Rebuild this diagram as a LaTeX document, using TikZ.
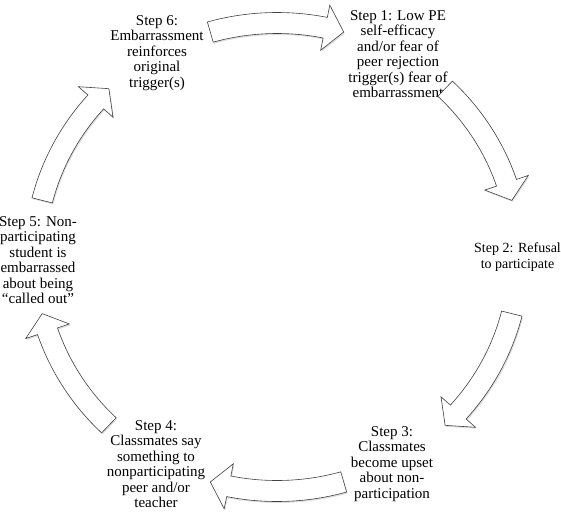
\documentclass[tikz,border=0pt]{standalone}
\usepackage{fontspec}
\setmainfont{Liberation Serif}
\usetikzlibrary{shadows}

% curved block arrow on the cycle: #1 tail angle, #2 tip angle
\newcommand{\cyclearrow}[2]{%
  \pgfmathsetmacro{\neckang}{#2+4.5}%
  \draw[blockarrow] (#1:252.5pt and 244.5pt)
    arc[start angle=#1, end angle=\neckang, x radius=252.5pt, y radius=244.5pt]
    -- (\neckang:265pt and 257pt) -- (#2:242pt and 234pt)
    -- (\neckang:219pt and 211pt) -- (\neckang:231.5pt and 223.5pt)
    arc[start angle=\neckang, end angle=#1, x radius=231.5pt, y radius=223.5pt]
    -- cycle;
}

\begin{document}
\begin{tikzpicture}[
    x=1pt, y=1pt,
    stagetext/.style={align=center, inner sep=0pt, font=\fontsize{15}{15.5}\selectfont},
    blockarrow/.style={draw=black!75, fill=white, line width=0.6pt,
      drop shadow={opacity=0.25, shadow xshift=1pt, shadow yshift=-1.5pt}},
]
\useasboundingbox (-277,-263) rectangle (284,257);

% Steps
\node[stagetext] (s1) at (121, 203) {Step 1: Low PE\\self-efficacy\\and/or fear of\\peer rejection\\trigger(s) fear of\\embarrassment};
\node[stagetext, font=\fontsize{14}{15.5}\selectfont] (s2) at (240.5, 0) {Step 2: Refusal\\to participate};
\node[stagetext] (s3) at (115, -207) {Step 3:\\Classmates\\become upset\\about non-\\participation};
\node[stagetext] (s4) at (-121, -207) {Step 4:\\Classmates say\\something to\\nonparticipating\\peer and/or\\teacher};
\node[stagetext] (s5) at (-239, -3) {Step 5: Non-\\participating\\student is\\embarrassed\\about being\\“called out”};
\node[stagetext] (s6) at (-120, 204) {Step 6:\\Embarrassment\\reinforces\\original\\trigger(s)};

% Arrows
\cyclearrow{106}{74}     % s6 -> s1
\cyclearrow{46}{14}      % s1 -> s2
\cyclearrow{-14}{-46}    % s2 -> s3
\cyclearrow{-74}{-106}   % s3 -> s4
\cyclearrow{226}{194}    % s4 -> s5
\cyclearrow{166}{134}    % s5 -> s6

\end{tikzpicture}
\end{document}
